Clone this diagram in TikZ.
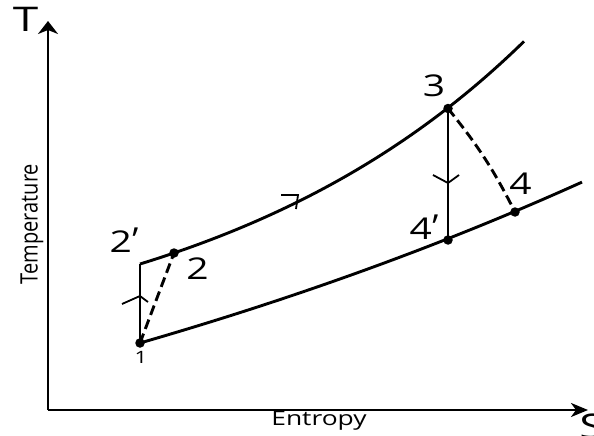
\documentclass[tikz,border=0pt]{standalone}
\usepackage{fontspec}
\setmainfont{Open Sans}
\usetikzlibrary{arrows.meta}
\newcommand\stretchtxt[2][1.3]{\scalebox{#1}[1]{#2}}
\newcommand\myprime{\kern0.5pt\scalebox{0.9}[1.15]{’}}
\tikzset{
  curve/.style={line width=2.9pt, line join=round},
  axis/.style={line width=2.4pt},
  dashline/.style={line width=2.9pt, dash pattern=on 10pt off 5pt},
  chev/.style={line width=1.8pt, line join=miter},
  pt/.style={circle, fill=black, inner sep=0pt, minimum size=9.5pt},
  lbl/.style={inner sep=0pt, font=\fontsize{30}{30}\selectfont},
  axlbl/.style={inner sep=0pt, font=\fontsize{34}{34}\selectfont},
  ttl/.style={inner sep=0pt, font=\fontsize{20}{20}\selectfont},
}
\begin{document}
\begin{tikzpicture}[x=1pt,y=-1pt]
\useasboundingbox (0,0) rectangle (594,436);
% axes
\coordinate (O) at (48,410);
\coordinate (Ttip) at (48,21);
\coordinate (Stip) at (588,410);
\draw[axis, -{Stealth[length=13pt,width=20pt,inset=4pt]}] (O) -- (Ttip);
\draw[axis, -{Stealth[length=17pt,width=14pt,inset=5pt]}] (O) -- (Stip);
\node[axlbl] (Tl) at (25.5,19.5) {\stretchtxt[1.35]{T}};
\node[axlbl] (Sl) at (592,426) {\stretchtxt[1.35]{S}};
\node[ttl] (ent) at (319,421) {\stretchtxt[1.32]{Entropy}};
\node[ttl, rotate=90] (tem) at (32,224) {\scalebox{1}[1.2]{Temperature}};
% curves
\draw[curve] plot[domain=140:524, samples=90] ({\x},{264-102.5*(exp(0.003*(\x-140))-1)});
\draw[curve] plot[domain=140:582, samples=90] ({\x},{343-287*(exp(0.001*(\x-140))-1)});
% state points
\coordinate (c2p) at (140,264);
\node[pt] (n1) at (140,343) {};
\node[pt] (n2) at (174,253) {};
\node[pt] (n3) at (448,108.5) {};
\node[pt] (n4p) at (448,240) {};
\node[pt] (n4) at (515,212) {};
% processes
\draw[curve] (n1.center) -- (c2p);
\draw[curve] (n3.center) -- (n4p.center);
\draw[dashline] (n1.center) -- (n2.center);
\draw[dashline] (n3.center) to[bend left=6] (n4.center);
% direction chevrons
\coordinate (a1) at (140,296);
\draw[chev] (122,304) -- (a1) -- (148,302);
\coordinate (a2) at (448,183);
\draw[chev] (433,175) -- (a2) -- (459,175);
\coordinate (a3) at (298,195);
\draw[chev] (281,195) -- (a3) -- (296,209);
% labels
\node[lbl] (l2p) at (124,240) {\stretchtxt{2\myprime}};
\node[lbl] (l2) at (197.5,268.5) {\stretchtxt{2}};
\node[lbl] (l3) at (434,86) {\stretchtxt{3}};
\node[lbl] (l4) at (520.5,184) {\stretchtxt{4}};
\node[lbl] (l4p) at (424,227) {\stretchtxt{4\myprime}};
\node[inner sep=0pt, font=\fontsize{17}{17}\selectfont] (l1) at (141,357) {\stretchtxt{1}};
\end{tikzpicture}
\end{document}
